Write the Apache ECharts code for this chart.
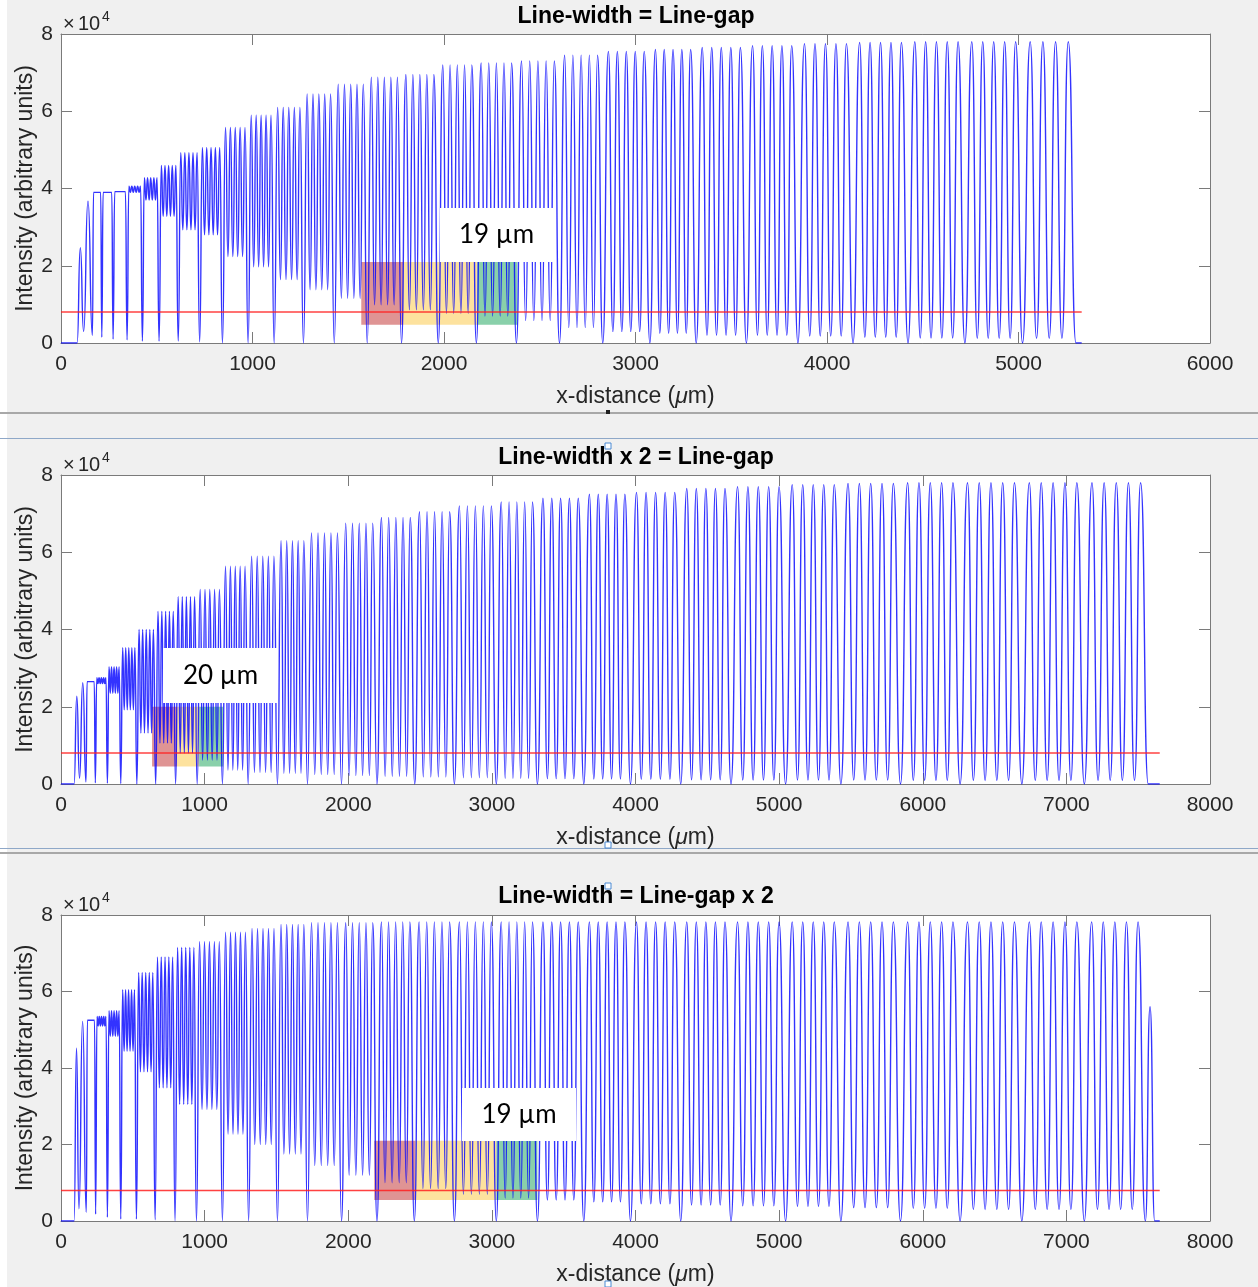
<!DOCTYPE html>
<html><head><meta charset="utf-8">
<script src="https://cdn.jsdelivr.net/npm/echarts/dist/echarts.min.js"></script>
<style>html,body{margin:0;padding:0;background:#f0f0f0;}#c{width:1258px;height:1287px;}</style>
</head><body><div id="c"></div>
<script>
// ---------- Panel 1: Line-width = Line-gap ----------
const P1_TROUGH_X = [84, 118, 164, 213, 272, 345, 425, 512, 612, 724, 843, 977, 1113, 1266, 1427, 1599, 1778, 1970, 2169, 2378, 2603, 2829, 3075, 3317, 3579, 3848, 4136, 4423, 4720, 5021, 5300];
const P1_TROUGH_Y = [0, 3000, 2000, 1500, 1000, 800, 500, 500, 500, 300, 0, 0, 0, 0, 0, 0, 0, 0, 0, 0, 0, 0, 0, 0, 0, 0, 0, 0, 0, 0, 0];
const P1_PEAK_Y = [24700, 36700, 39000, 39000, 39200, 40600, 42800, 46000, 49300, 50600, 55800, 59000, 61000, 64500, 67000, 68800, 69500, 72000, 72500, 73000, 74500, 75500, 76000, 76500, 77000, 77500, 77800, 78000, 78000, 78000];
const P1_INNER_Y = [24700, 36700, 39000, 39000, 39200, 39000, 37000, 32800, 29300, 28000, 22400, 19700, 16400, 13800, 11600, 9900, 8600, 7700, 7000, 5800, 4000, 3000, 2500, 2000, 2000, 1800, 1500, 1300, 1200, 1200];
const P1_LINES = [1, 1, 5, 5, 5, 5, 5, 5, 5, 5, 5, 5, 5, 5, 5, 5, 5, 5, 5, 5, 5, 5, 5, 5, 5, 5, 5, 5, 5, 4];
const P1_TAIL_X = 5330;
const P1_RED_END = 5330;
const P1_HIGHLIGHT_X = [1568, 1787, 2174, 2383];
const P1_HIGHLIGHT_Y = [4700, 21000];

// ---------- Panel 2: Line-width x 2 = Line-gap ----------
const P2_TROUGH_X = [91, 129, 174, 239, 323, 416, 528, 659, 798, 948, 1124, 1303, 1507, 1716, 1953, 2200, 2463, 2739, 3031, 3317, 3640, 3965, 4315, 4665, 5045, 5430, 5845, 6260, 6690, 7125, 7570];
const P2_TROUGH_Y = [0, 1500, 500, 300, 200, 100, 0, 0, 0, 0, 0, 0, 0, 0, 0, 0, 0, 0, 0, 0, 0, 0, 0, 0, 0, 0, 0, 0, 0, 0, 0];
const P2_PEAK_Y = [22700, 26200, 26500, 27500, 30400, 35300, 40000, 44700, 48500, 50400, 56400, 59000, 63000, 65000, 67500, 69000, 70500, 72000, 73000, 74000, 75000, 75500, 76500, 77000, 77500, 77800, 78000, 78000, 78000, 78000];
const P2_INNER_Y = [22700, 26200, 26500, 26000, 23500, 19200, 13200, 10600, 8000, 6200, 3600, 3000, 2800, 2500, 2200, 2000, 1800, 1600, 1500, 1400, 1300, 1200, 1100, 1000, 1000, 1000, 900, 900, 900, 900];
const P2_LINES = [1, 1, 5, 5, 5, 5, 5, 5, 5, 5, 5, 5, 5, 5, 5, 5, 5, 5, 5, 5, 5, 5, 5, 5, 5, 5, 5, 5, 5, 5];
const P2_TAIL_X = 7650;
const P2_RED_END = 7650;
const P2_HIGHLIGHT_X = [634, 808, 962, 1129];
const P2_HIGHLIGHT_Y = [4500, 20000];

// ---------- Panel 3: Line-width = Line-gap x 2 ----------
const P3_TROUGH_X = [91, 125, 176, 241, 323, 416, 525, 655, 794, 943, 1124, 1306, 1507, 1716, 1953, 2200, 2460, 2739, 3031, 3317, 3640, 3965, 4315, 4665, 5045, 5430, 5845, 6260, 6690, 7125, 7550, 7615];
const P3_TROUGH_Y = [0, 3200, 2300, 1800, 1000, 500, 500, 300, 0, 0, 0, 0, 0, 0, 0, 0, 0, 0, 0, 0, 0, 0, 0, 0, 0, 0, 0, 0, 0, 0, 0, 0];
const P3_PEAK_Y = [45200, 52200, 52500, 53500, 55000, 60500, 65000, 69000, 71500, 73000, 75500, 76500, 77500, 78000, 78000, 78200, 78200, 78200, 78200, 78200, 78200, 78200, 78200, 78200, 78200, 78200, 78200, 78200, 78200, 78200, 56000];
const P3_INNER_Y = [45200, 52200, 52500, 51000, 48300, 44400, 39000, 34800, 30500, 29200, 22700, 20000, 17500, 14500, 12000, 10000, 8500, 7000, 6000, 5500, 5000, 4500, 4200, 4000, 3800, 3500, 3300, 3000, 3000, 3000, 56000];
const P3_LINES = [1, 1, 5, 5, 5, 5, 5, 5, 5, 5, 5, 5, 5, 5, 5, 5, 5, 5, 5, 5, 5, 5, 5, 5, 5, 5, 5, 5, 5, 5, 1];
const P3_TAIL_X = 7650;
const P3_RED_END = 7650;
const P3_HIGHLIGHT_X = [2181, 2467, 3031, 3317];
const P3_HIGHLIGHT_Y = [5500, 21000];

const RED_LEVEL = 8000;
const Y_TICKS = [0, 2, 4, 6, 8];
const TITLES = ['Line-width = Line-gap', 'Line-width x 2 = Line-gap', 'Line-width = Line-gap x 2'];
const BOX_LABELS = ['19 µm', '20 µm', '19 µm'];

function buildProfile(tx, ty, peak, inner, lines, tailX) {
  const pts = [[0, 0]];
  for (let g = 0; g < peak.length; g++) {
    const xa = tx[g], xb = tx[g + 1], span = xb - xa, n = lines[g];
    pts.push([xa, ty[g]]);
    const step = 0.95 / n;
    const first = (1 - (n - 1) * step) / 2;
    for (let k = 0; k < n; k++) {
      const px = xa + span * (first + k * step);
      pts.push([px, peak[g]]);
      if (k < n - 1) pts.push([px + span * step / 2, inner[g]]);
    }
  }
  pts.push([tx[tx.length - 1], ty[ty.length - 1]]);
  pts.push([tailX, 0]);
  return pts;
}

const panels = [
  {tx: P1_TROUGH_X, ty: P1_TROUGH_Y, pk: P1_PEAK_Y, inn: P1_INNER_Y, ln: P1_LINES, tail: P1_TAIL_X, red: P1_RED_END, hx: P1_HIGHLIGHT_X, hy: P1_HIGHLIGHT_Y, xmax: 6000},
  {tx: P2_TROUGH_X, ty: P2_TROUGH_Y, pk: P2_PEAK_Y, inn: P2_INNER_Y, ln: P2_LINES, tail: P2_TAIL_X, red: P2_RED_END, hx: P2_HIGHLIGHT_X, hy: P2_HIGHLIGHT_Y, xmax: 8000},
  {tx: P3_TROUGH_X, ty: P3_TROUGH_Y, pk: P3_PEAK_Y, inn: P3_INNER_Y, ln: P3_LINES, tail: P3_TAIL_X, red: P3_RED_END, hx: P3_HIGHLIGHT_X, hy: P3_HIGHLIGHT_Y, xmax: 8000}
];

const FF = '"Liberation Sans", Arial, sans-serif';
const AX = '#7a7a7a';
const TX = '#262626';
const GRID_TOPS = [34, 475, 915];
const GRID_H = 309;

const grids = [], xAxes = [], yAxes = [], series = [];
const hlColors = ['rgba(196,60,60,0.55)', 'rgba(250,190,40,0.45)', 'rgba(40,170,100,0.55)'];

panels.forEach((p, i) => {
  grids.push({left: 61, right: 48, top: GRID_TOPS[i], height: GRID_H, show: true, backgroundColor: '#ffffff', borderWidth: 0});
  const common = {type: 'value', gridIndex: i, min: 0, max: p.xmax, interval: 1000, splitLine: {show: false},
    axisLine: {show: true, onZero: false, lineStyle: {color: AX, width: 1}},
    axisTick: {show: true, inside: true, length: 11, lineStyle: {color: AX}}};
  xAxes.push(Object.assign({}, common, {position: 'bottom',
    axisLabel: {fontSize: 21, color: TX, margin: 11, fontFamily: FF, formatter: v => String(v)},
    name: 'x-distance ({i|μ}m)', nameLocation: 'middle', nameGap: 42, nameMoveOverlap: false,
    nameTextStyle: {fontSize: 23, color: TX, fontFamily: FF, rich: {i: {fontSize: 23, color: TX, fontStyle: 'italic', fontFamily: FF}}}}));
  xAxes.push(Object.assign({}, common, {position: 'top', axisLabel: {show: false}}));
  const ycommon = {type: 'value', gridIndex: i, min: 0, max: 80000, interval: 20000, splitLine: {show: false},
    axisLine: {show: true, onZero: false, lineStyle: {color: AX, width: 1}},
    axisTick: {show: true, inside: true, length: 11, lineStyle: {color: AX}}};
  yAxes.push(Object.assign({}, ycommon, {position: 'left',
    axisLabel: {fontSize: 21, color: TX, margin: 8, fontFamily: FF, formatter: v => String(Y_TICKS[Math.round(v / 20000)])},
    name: 'Intensity (arbitrary units)', nameLocation: 'middle', nameGap: 24, nameMoveOverlap: false,
    nameTextStyle: {fontSize: 23, color: TX, fontFamily: FF}}));
  yAxes.push(Object.assign({}, ycommon, {position: 'right', axisLabel: {show: false}}));

  series.push({type: 'line', xAxisIndex: 2 * i, yAxisIndex: 2 * i, silent: true, animation: false,
    showSymbol: false, symbol: 'none', z: 2, smooth: 0.6, smoothMonotone: 'x',
    data: buildProfile(p.tx, p.ty, p.pk, p.inn, p.ln, p.tail),
    lineStyle: {color: '#0000ff', width: 1.4, opacity: 0.8}});
  series.push({type: 'line', xAxisIndex: 2 * i, yAxisIndex: 2 * i, silent: true, animation: false,
    showSymbol: false, symbol: 'none', z: 3,
    data: [[0, RED_LEVEL], [p.red, RED_LEVEL]],
    lineStyle: {color: '#ff2020', width: 1.5, opacity: 0.85}});
  const areas = [];
  for (let k = 0; k < 3; k++) {
    areas.push([{xAxis: p.hx[k], yAxis: p.hy[0], itemStyle: {color: hlColors[k]}}, {xAxis: p.hx[k + 1], yAxis: p.hy[1]}]);
  }
  series.push({type: 'line', xAxisIndex: 2 * i, yAxisIndex: 2 * i, silent: true, animation: false,
    showSymbol: false, symbol: 'none', z: 5, data: [[0, 0]], lineStyle: {opacity: 0},
    markArea: {silent: true, data: areas}});
});

const graphics = [
  {type: 'rect', shape: {x: 0, y: 0, width: 7, height: 1287}, style: {fill: '#ffffff'}, z: -1},
  {type: 'rect', shape: {x: 0, y: 412, width: 1258, height: 2}, style: {fill: '#a8a8a8'}, z: -1},
  {type: 'rect', shape: {x: 0, y: 438, width: 1258, height: 1}, style: {fill: '#8fa8c8'}, z: -1},
  {type: 'rect', shape: {x: 0, y: 848, width: 1258, height: 1}, style: {fill: '#8fa8c8'}, z: -1},
  {type: 'rect', shape: {x: 0, y: 852, width: 1258, height: 2}, style: {fill: '#a8a8a8'}, z: -1},
  {type: 'rect', shape: {x: 606, y: 410, width: 4, height: 4}, style: {fill: '#202020'}, z: 60},
  {type: 'rect', shape: {x: 605, y: 443, width: 6, height: 6}, style: {fill: '#ffffff', stroke: '#4a8ad4', lineWidth: 1}, z: 60},
  {type: 'rect', shape: {x: 605, y: 842, width: 6, height: 6}, style: {fill: '#ffffff', stroke: '#4a8ad4', lineWidth: 1}, z: 60},
  {type: 'rect', shape: {x: 605, y: 883, width: 6, height: 6}, style: {fill: '#ffffff', stroke: '#4a8ad4', lineWidth: 1}, z: 60},
  {type: 'rect', shape: {x: 605, y: 1281, width: 6, height: 6}, style: {fill: '#ffffff', stroke: '#4a8ad4', lineWidth: 1}, z: 60}
];
const titleY = [17, 458, 897];
const expY = [24, 465, 905];
const boxes = [[440, 208, 113, 54], [163, 648, 115, 55], [462, 1088, 114, 53]];
for (let i = 0; i < 3; i++) {
  graphics.push({type: 'text', x: 636, y: titleY[i], z: 50, style: {text: TITLES[i], font: 'bold 23px ' + FF, fill: '#000', align: 'center', verticalAlign: 'middle'}});
  graphics.push({type: 'text', x: 63, y: expY[i], z: 50, style: {text: '×', font: '20px ' + FF, fill: TX, align: 'left', verticalAlign: 'middle'}});
  graphics.push({type: 'text', x: 78, y: expY[i], z: 50, style: {text: '10', font: '20px ' + FF, fill: TX, align: 'left', verticalAlign: 'middle'}});
  graphics.push({type: 'text', x: 102, y: expY[i] - 7, z: 50, style: {text: '4', font: '14px ' + FF, fill: TX, align: 'left', verticalAlign: 'middle'}});
  const b = boxes[i];
  graphics.push({type: 'rect', z: 100, shape: {x: b[0], y: b[1], width: b[2], height: b[3]}, style: {fill: '#ffffff'}});
  graphics.push({type: 'text', z: 101, x: b[0] + b[2] / 2, y: b[1] + b[3] / 2, style: {text: BOX_LABELS[i], font: '26px Lato, "Open Sans", sans-serif', fill: '#000', align: 'center', verticalAlign: 'middle'}});
}

const chart = echarts.init(document.getElementById('c'), null, {renderer: 'canvas'});
chart.setOption({
  animation: false,
  backgroundColor: 'transparent',
  grid: grids, xAxis: xAxes, yAxis: yAxes, series: series, graphic: graphics
});
</script></body></html>
